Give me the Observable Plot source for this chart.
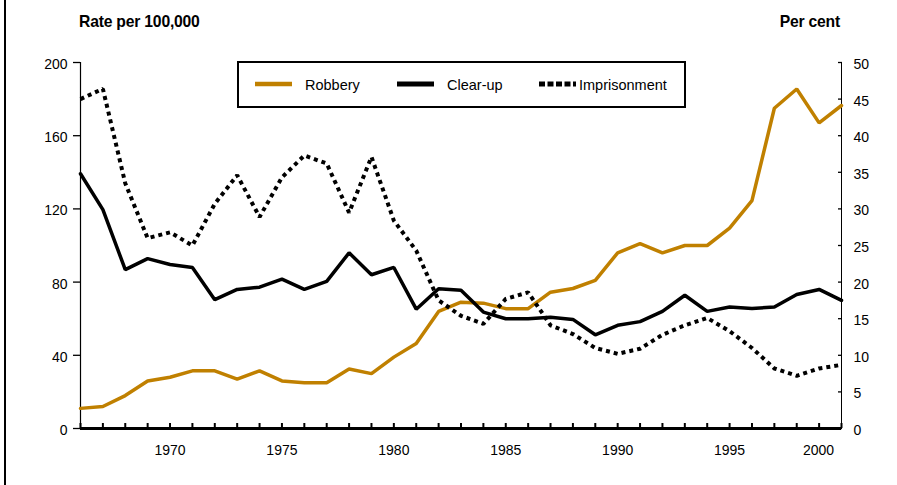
<!DOCTYPE html>
<html>
<head>
<meta charset="utf-8">
<script src="https://cdn.jsdelivr.net/npm/d3@7"></script>
<script src="https://cdn.jsdelivr.net/npm/@observablehq/plot@0.6"></script>
<style>
  html, body { margin: 0; padding: 0; background: #fff; }
  #wrap { position: relative; width: 897px; height: 485px; overflow: hidden; font-family: "Liberation Sans", Arial, sans-serif; color: #000; }
  #border { position: absolute; left: 4px; top: 0; width: 2px; height: 485px; background: #000; }
  .title { position: absolute; top: 13px; font-size: 15.7px; font-weight: bold; line-height: 18px; white-space: nowrap; letter-spacing: -0.2px; }
  #ltitle { left: 79px; }
  #rtitle { right: 57px; }
  #legend { position: absolute; left: 237px; top: 61px; }
  #chart { position: absolute; left: 0; top: 0; }
</style>
</head>
<body>
<div id="wrap">
  <div id="border"></div>
  <div id="chart"></div>
  <div class="title" id="ltitle">Rate per 100,000</div>
  <div class="title" id="rtitle">Per cent</div>
  <div id="legend"></div>
</div>
<script>
// ---- data ----
const years = d3.range(1966, 2001);
const robbery = [11, 12, 18, 26, 28, 31.5, 31.5, 27, 31.5, 26, 25, 25, 32.5, 30, 39, 46.5, 64, 69, 68.5, 65.5, 65.5, 74.5, 76.5, 81, 96, 101, 96, 100, 100, 109.5, 124.5, 175, 185.5, 167, 176.5];
const clearup = [34.8, 29.9, 21.7, 23.2, 22.4, 22.0, 17.6, 19.0, 19.3, 20.4, 19.0, 20.1, 24.0, 21.0, 22.0, 16.3, 19.1, 18.9, 15.9, 15.0, 15.0, 15.2, 14.9, 12.8, 14.1, 14.6, 16.0, 18.2, 16.0, 16.6, 16.4, 16.6, 18.3, 19.0, 17.5];
const imprisonment = [45.0, 46.4, 33.5, 26.0, 26.8, 25.0, 30.7, 34.6, 28.9, 34.3, 37.3, 36.2, 29.5, 37.1, 28.4, 24.3, 17.5, 15.4, 14.3, 17.7, 18.6, 14.1, 12.9, 11.0, 10.2, 10.9, 12.8, 14.1, 15.1, 13.3, 11.0, 8.2, 7.2, 8.2, 8.7];
const leftTicks = [0, 40, 80, 120, 160, 200];
const rightTicks = [0, 5, 10, 15, 20, 25, 30, 35, 40, 45, 50];
const xLabels = [1970, 1975, 1980, 1985, 1990, 1995];
const lastLabel = [2000];
const seriesNames = ["Robbery", "Clear-up", "Imprisonment"];

const RATE_PER_PCT = 200 / 50; // right axis: 50% aligns with 200
const rows = years.map((y, i) => ({year: y, robbery: robbery[i], clearup: clearup[i], imprisonment: imprisonment[i]}));

const gold = "#C08000";
const FONT = '"Liberation Sans", Arial, sans-serif';

const chart = Plot.plot({
  width: 897,
  height: 485,
  marginLeft: 80,
  marginRight: 56,
  marginTop: 62,
  marginBottom: 57,
  style: {fontFamily: FONT, fontSize: "14px", color: "#000", background: "transparent", overflow: "visible"},
  x: {domain: [1966, 2000]},
  y: {domain: [0, 200]},
  marks: [
    // axis lines
    Plot.ruleX([1966], {stroke: "#000", strokeWidth: 1.2}),
    Plot.ruleX([2000], {stroke: "#000", strokeWidth: 1}),
    // left axis
    Plot.axisY({anchor: "left", ticks: leftTicks, tickSize: 7, strokeWidth: 1.3, tickFormat: () => "", label: null}),
    Plot.axisY({anchor: "left", ticks: leftTicks, tickSize: 0, tickPadding: 13, dy: 2, label: null}),
    // right axis (per cent)
    Plot.axisY({anchor: "right", ticks: rightTicks.map(p => p * RATE_PER_PCT), tickSize: 4, dx: -4, strokeWidth: 1.3, tickFormat: () => "", label: null}),
    Plot.axisY({anchor: "right", ticks: rightTicks.map(p => p * RATE_PER_PCT), tickSize: 0, tickPadding: 12, dy: 2, tickFormat: d => d / RATE_PER_PCT, label: null}),
    // x axis
    Plot.axisX({ticks: years, tickSize: 5, dy: -5, strokeWidth: 2, tickFormat: () => "", label: null}),
    Plot.axisX({ticks: xLabels, tickSize: 0, tickPadding: 17, tickFormat: d => String(d), label: null}),
    Plot.axisX({ticks: lastLabel, tickSize: 0, tickPadding: 17, dx: -23, tickFormat: d => String(d), label: null}),
    // series
    Plot.line(rows, {x: "year", y: "robbery", stroke: gold, strokeWidth: 3.5, strokeLinejoin: "miter"}),
    Plot.line(rows, {x: "year", y: d => d.clearup * RATE_PER_PCT, stroke: "#000", strokeWidth: 3.5, strokeLinejoin: "miter"}),
    Plot.line(rows, {x: "year", y: d => d.imprisonment * RATE_PER_PCT, stroke: "#000", strokeWidth: 4, strokeDasharray: "4,4", strokeLinecap: "butt", strokeLinejoin: "miter"}),
    Plot.ruleY([0], {stroke: "#000", strokeWidth: 3})
  ]
});
document.getElementById("chart").appendChild(chart);

// ---- legend ----
const legendStyles = [
  {stroke: gold, width: 4.5, dash: null},
  {stroke: "#000", width: 5, dash: null},
  {stroke: "#000", width: 5, dash: "6,2.5"}
];
const swatchX = [18, 160, 302];
const textX = [68, 210, 342];
const ns = "http://www.w3.org/2000/svg";
const lsvg = document.createElementNS(ns, "svg");
lsvg.setAttribute("width", 450);
lsvg.setAttribute("height", 47);
lsvg.style.display = "block";
const box = document.createElementNS(ns, "rect");
box.setAttribute("x", 1); box.setAttribute("y", 1);
box.setAttribute("width", 447); box.setAttribute("height", 45);
box.setAttribute("fill", "#fff"); box.setAttribute("stroke", "#000"); box.setAttribute("stroke-width", 2);
lsvg.appendChild(box);
seriesNames.forEach((name, i) => {
  const s = legendStyles[i];
  const ln = document.createElementNS(ns, "line");
  ln.setAttribute("x1", swatchX[i]); ln.setAttribute("x2", swatchX[i] + 37);
  ln.setAttribute("y1", 23); ln.setAttribute("y2", 23);
  ln.setAttribute("stroke", s.stroke); ln.setAttribute("stroke-width", s.width);
  if (s.dash) ln.setAttribute("stroke-dasharray", s.dash);
  lsvg.appendChild(ln);
  const t = document.createElementNS(ns, "text");
  t.setAttribute("x", textX[i]); t.setAttribute("y", 29);
  t.setAttribute("font-family", FONT); t.setAttribute("font-size", "14.5px");
  t.textContent = name;
  lsvg.appendChild(t);
});
document.getElementById("legend").appendChild(lsvg);
</script>
</body>
</html>
